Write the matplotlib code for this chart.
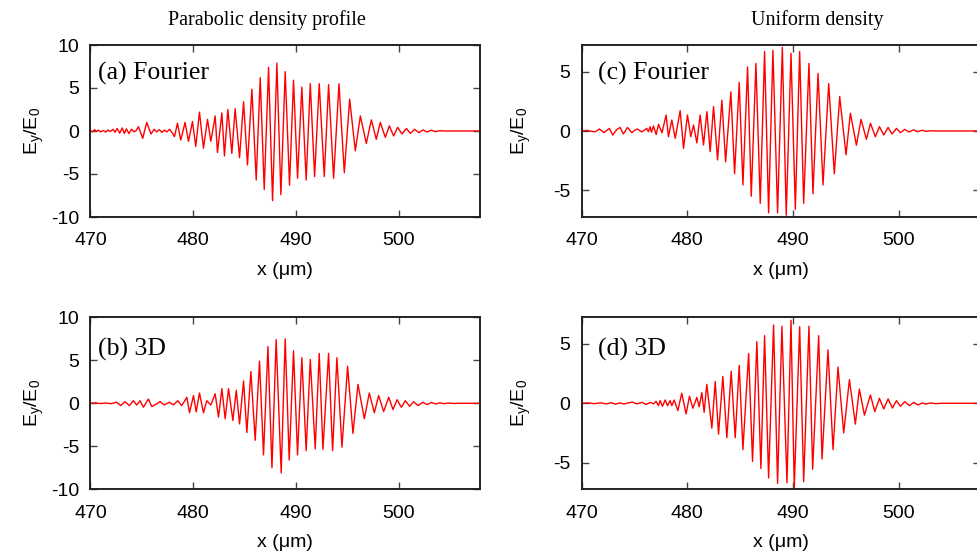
import matplotlib
matplotlib.use("Agg")
import matplotlib.pyplot as plt

plt.rcParams["font.family"] = ["Liberation Sans", "DejaVu Sans"]
plt.rcParams["mathtext.fontset"] = "custom"
plt.rcParams["mathtext.rm"] = "Liberation Sans"
plt.rcParams["mathtext.it"] = "Liberation Sans:italic"
plt.rcParams["axes.unicode_minus"] = False

# Field extrema (x in um, E_y/E_0) for each run
parabolic_fourier = [
    (470.0, 0.05), (470.2, -0.1), (470.4, 0.15), (470.6, -0.05), (470.8, 0.1),
    (471.0, -0.1), (471.25, 0.05), (471.5, -0.12), (471.7, 0.1), (471.95, -0.05),
    (472.2, 0.2), (472.4, -0.15), (472.6, 0.3), (472.85, -0.25), (473.1, 0.35),
    (473.3, -0.3), (473.5, 0.25), (473.75, -0.3), (474.0, 0.2), (474.25, -0.1),
    (474.45, 0.05), (474.67, 0.5), (475.09, -0.85), (475.48, 1.0), (475.9, -0.35),
    (476.2, 0.2), (476.45, -0.1), (476.7, 0.15), (476.95, -0.15), (477.2, 0.1),
    (477.45, -0.1), (477.7, 0.2), (477.95, -0.2),
    (478.18, -0.66), (478.47, 0.9), (478.79, -1.05), (479.21, 1.0), (479.54, -1.2),
    (479.93, 1.1), (480.25, -1.8), (480.61, 2.2), (481.0, -2.0), (481.39, 1.35),
    (481.72, -1.2), (482.14, 1.75), (482.36, -2.5), (482.79, 2.1), (483.04, -2.9),
    (483.37, 2.5), (483.76, -2.6), (484.08, 2.6), (484.51, -3.1), (484.9, 3.4),
    (485.28, -3.95), (485.71, 4.85), (486.13, -5.7), (486.52, 6.2), (486.91, -6.8),
    (487.33, 7.4), (487.72, -8.1), (488.14, 7.9), (488.53, -7.4), (488.95, 6.9),
    (489.37, -6.3), (489.76, 5.9), (490.15, -5.5), (490.57, 5.1), (490.99, -5.7),
    (491.39, 5.5), (491.81, -5.3), (492.26, 5.5), (492.75, -5.3), (493.17, 5.4),
    (493.66, -5.5), (494.18, 5.5), (494.7, -4.85), (495.22, 3.7), (495.77, -2.3),
    (496.26, 1.75), (496.84, -1.45), (497.33, 1.3), (497.81, -0.97), (498.2, 1.0),
    (498.69, -0.74), (499.08, 0.6), (499.5, -0.58), (499.89, 0.43), (500.31, -0.35),
    (500.74, 0.3), (501.13, -0.27), (501.55, 0.2), (501.94, -0.2), (502.36, 0.12),
    (502.75, -0.12), (503.17, 0.1), (503.56, -0.08), (504.0, 0.04), (504.4, 0.0),
    (508.0, 0.0),
]

parabolic_3d = [
    (470.0, 0.0), (470.5, 0.05), (471.0, -0.03), (471.5, 0.04), (472.0, -0.05),
    (472.3, 0.05), (472.56, 0.12), (472.95, -0.27), (473.37, 0.19), (473.79, -0.27),
    (474.18, 0.3), (474.5, -0.19), (474.83, 0.3), (475.16, -0.46), (475.64, 0.5),
    (475.97, -0.38), (476.4, -0.1), (476.78, 0.19), (477.17, -0.19), (477.69, 0.12),
    (478.08, -0.19), (478.5, 0.3), (478.89, -0.27),
    (479.38, 0.7), (479.64, -1.1), (480.03, 0.9), (480.29, -1.0), (480.61, 1.2),
    (481.0, -1.1), (481.32, 0.3), (481.71, -0.2), (482.14, 1.1), (482.46, -1.6),
    (482.79, 1.7), (483.11, -1.8), (483.44, 1.7), (483.86, -2.0), (484.19, 1.5),
    (484.51, -2.4), (484.9, 2.6), (485.22, -3.4), (485.61, 3.7), (486.03, -4.3),
    (486.45, 4.9), (486.84, -6.0), (487.27, 6.6), (487.66, -7.5), (488.07, 7.4),
    (488.56, -8.1), (488.95, 7.5), (489.34, -6.6), (489.76, 6.1), (490.15, -6.0),
    (490.57, 5.3), (490.99, -5.5), (491.39, 5.1), (491.87, -5.3), (492.26, 5.8),
    (492.62, -5.35), (493.17, 5.8), (493.56, -5.5), (493.98, 5.3), (494.47, -5.1),
    (495.02, 4.3), (495.54, -3.5), (496.03, 2.2), (496.65, -1.8), (497.13, 1.2),
    (497.62, -1.1), (498.04, 0.9), (498.53, -0.96), (499.02, 0.7), (499.44, -0.73),
    (499.83, 0.42), (500.25, -0.46), (500.64, 0.3), (501.06, -0.35), (501.45, 0.19),
    (501.87, -0.27), (502.33, 0.12), (502.75, -0.15), (503.17, 0.1), (503.6, -0.08),
    (504.0, 0.06), (504.4, -0.04), (504.8, 0.03), (505.3, -0.02), (505.8, 0.0),
    (508.0, 0.0),
]

uniform_fourier = [
    (470.0, 0.0), (470.5, 0.05), (471.0, -0.04), (471.3, -0.06), (471.67, 0.17),
    (472.11, -0.14), (472.62, 0.22), (472.94, -0.34), (473.3, 0.1), (473.63, 0.3),
    (473.95, -0.25), (474.33, 0.3), (474.74, -0.14), (475.0, 0.05), (475.27, 0.17),
    (475.68, -0.08), (476.16, 0.22), (476.31, -0.06), (476.47, 0.36), (476.6, -0.1),
    (476.79, 0.42), (477.05, -0.3), (477.27, 0.56), (477.6, -0.15), (477.99, 1.35),
    (478.21, -0.48), (478.53, 0.93), (478.85, -0.62), (479.32, 1.71), (479.64, -1.46),
    (480.01, 1.35), (480.33, -0.48), (480.58, 0.5), (480.9, -1.0), (481.21, 1.35),
    (481.53, -1.18), (481.85, 1.63), (482.16, -1.74), (482.48, 2.06), (482.86, -2.44),
    (483.27, 2.6), (483.62, -2.6), (484.12, 3.3), (484.47, -3.6), (484.91, 4.1),
    (485.26, -4.55), (485.7, 5.4), (486.05, -5.5), (486.49, 5.7), (486.9, -6.1),
    (487.31, 6.7), (487.69, -6.9), (488.1, 6.8), (488.54, -6.9), (488.99, 7.05),
    (489.36, -7.1), (489.81, 6.55), (490.22, -6.6), (490.63, 6.7), (491.01, -6.1),
    (491.51, 5.7), (491.89, -5.3), (492.37, 4.86), (492.84, -4.55), (493.38, 4.0),
    (493.91, -3.6), (494.42, 2.9), (495.02, -2.0), (495.43, 1.5), (496.0, -1.2),
    (496.44, 0.98), (496.95, -0.7), (497.33, 0.65), (497.8, -0.48), (498.18, 0.37),
    (498.59, -0.34), (499.0, 0.3), (499.38, -0.25), (499.79, 0.22), (500.17, -0.14),
    (500.58, 0.14), (500.96, -0.08), (501.43, 0.1), (501.75, -0.06), (502.22, 0.06),
    (502.6, -0.03), (503.0, 0.02), (503.5, 0.0), (509.0, 0.0),
]

uniform_3d = [
    (470.0, 0.0), (470.6, 0.03), (471.2, -0.03), (471.8, 0.04), (472.3, -0.05),
    (472.8, 0.05), (473.2, -0.07), (473.6, 0.04), (474.0, -0.06), (474.4, 0.03),
    (474.8, 0.1), (475.2, -0.05), (475.7, 0.08), (476.1, -0.1), (476.5, 0.08),
    (476.8, -0.05), (477.04, 0.17), (477.26, -0.2), (477.42, 0.23), (477.64, -0.25),
    (477.9, 0.28), (478.12, -0.2), (478.37, 0.23), (478.53, -0.2), (478.75, 0.28),
    (479.1, -0.62), (479.47, 0.85), (479.88, -0.9), (480.2, 0.6), (480.52, -0.42),
    (480.9, 0.5), (481.12, -0.3), (481.37, 0.9), (481.59, -0.76), (481.84, 1.6),
    (482.32, -2.1), (482.64, 1.84), (482.95, -2.6), (483.36, 2.26), (483.74, -2.9),
    (484.15, 2.7), (484.53, -2.9), (484.91, 3.2), (485.26, -3.9), (485.8, 4.2),
    (486.17, -4.9), (486.58, 5.2), (486.96, -5.5), (487.31, 5.7), (487.69, -6.3),
    (488.16, 6.6), (488.54, -6.75), (488.95, 6.5), (489.43, -6.7), (489.81, 7.0),
    (490.12, -7.1), (490.63, 6.45), (491.01, -6.6), (491.51, 6.5), (491.86, -5.56),
    (492.43, 5.7), (492.75, -4.7), (493.31, 4.5), (493.79, -3.9), (494.26, 3.05),
    (494.8, -2.5), (495.34, 2.0), (495.9, -1.75), (496.28, 1.2), (496.76, -1.0),
    (497.33, 0.7), (497.74, -0.7), (498.18, 0.42), (498.59, -0.48), (499.0, 0.37),
    (499.41, -0.4), (499.79, 0.22), (500.17, -0.25), (500.58, 0.14), (501.02, -0.2),
    (501.43, 0.08), (501.84, -0.14), (502.22, 0.02), (502.6, -0.06), (503.0, 0.03),
    (503.5, -0.03), (504.0, 0.0), (509.0, 0.0),
]

column_titles = ["Parabolic density profile", "Uniform density"]
panel_labels = ["(a) Fourier", "(b) 3D", "(c) Fourier", "(d) 3D"]
x_ticks = [470, 480, 490, 500]
y_ticks_parabolic = [-10, -5, 0, 5, 10]
y_ticks_uniform = [-5, 0, 5]

W, H = 978, 555
fig = plt.figure(figsize=(W / 100, H / 100), dpi=100)


def frac_box(left, top, right, bottom):
    return [left / W, 1 - bottom / H, (right - left) / W, (bottom - top) / H]


panels = [
    (parabolic_fourier, frac_box(90.4, 45, 480, 217), (470, 507.9), (-10, 10), y_ticks_parabolic, panel_labels[0], 0.019, 0.797),
    (parabolic_3d, frac_box(90.4, 317.3, 480, 489.3), (470, 507.9), (-10, 10), y_ticks_parabolic, panel_labels[1], 0.019, 0.78),
    (uniform_fourier, frac_box(581.7, 45, 980, 217), (470, 507.7), (-7.25, 7.25), y_ticks_uniform, panel_labels[2], 0.041, 0.797),
    (uniform_3d, frac_box(581.7, 317.3, 980, 489.3), (470, 507.7), (-7.25, 7.25), y_ticks_uniform, panel_labels[3], 0.041, 0.78),
]

for data, box, xlim, ylim, yticks, label, lx, ly in panels:
    ax = fig.add_axes(box)
    xs = [p[0] for p in data]
    ys = [p[1] for p in data]
    ax.plot(xs, ys, color="#ff0000", lw=1.0)
    ax.set_xlim(*xlim)
    ax.set_ylim(*ylim)
    ax.set_xticks(x_ticks)
    ax.set_yticks(yticks)
    ax.tick_params(direction="in", top=True, right=True, length=5, width=1.0,
                   color="#444444", labelsize=14, pad=8)
    ax.tick_params(axis="x", pad=11)
    for sp in ax.spines.values():
        sp.set_linewidth(1.4)
        sp.set_color("#222222")
    ax.text(lx, ly, label, transform=ax.transAxes, family="Liberation Serif",
            fontsize=18.5, ha="left", va="baseline")
    ax.set_xlabel("x (\u03bcm)", fontsize=14, labelpad=9)
    ax.set_ylabel(r"E$_\mathrm{y}$/E$_\mathrm{0}$", fontsize=14)
    if box[0] < 0.5:
        ax.yaxis.set_label_coords(-0.115, 0.5)
    else:
        ax.yaxis.set_label_coords(-0.122, 0.5)

fig.text(267 / W, 1 - 25 / H, column_titles[0], family="Liberation Serif",
         fontsize=14.5, ha="center", va="baseline")
fig.text(817 / W, 1 - 25 / H, column_titles[1], family="Liberation Serif",
         fontsize=14.5, ha="center", va="baseline")

fig.savefig("out.png", dpi=100)
